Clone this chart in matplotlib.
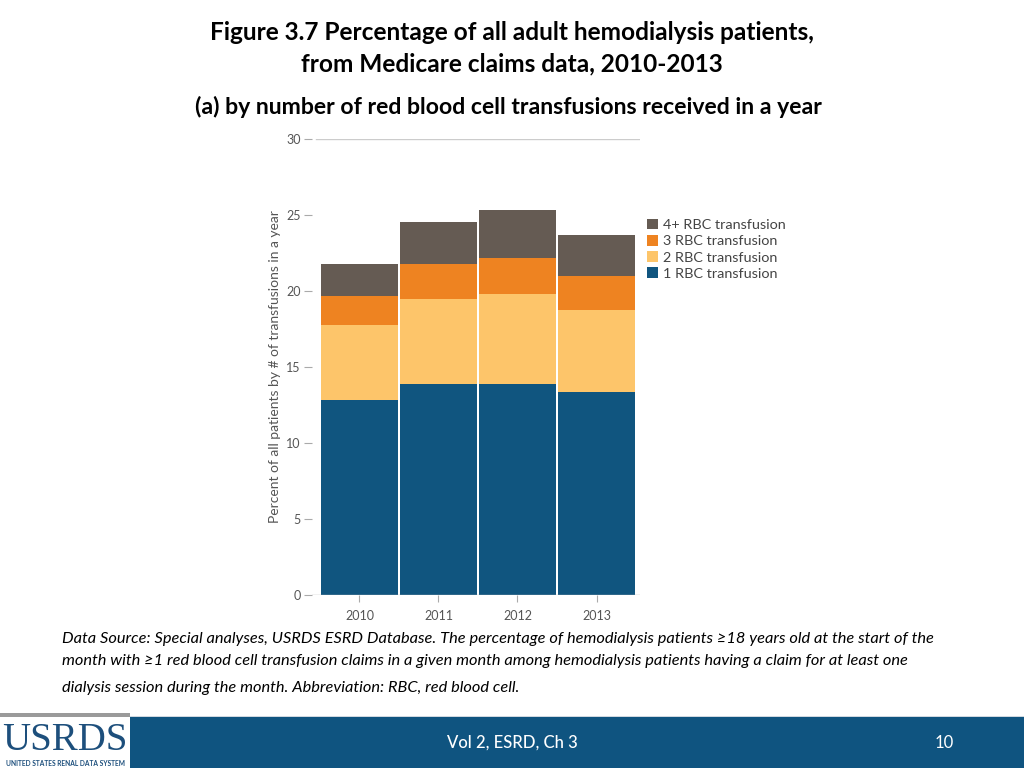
import matplotlib.pyplot as plt
from matplotlib.patches import Rectangle, Patch

years = ["2010", "2011", "2012", "2013"]
rbc_1 = [12.85, 13.85, 13.85, 13.35]
rbc_2 = [4.9, 5.6, 5.95, 5.4]
rbc_3 = [1.9, 2.3, 2.35, 2.25]
rbc_4plus = [2.1, 2.8, 3.15, 2.7]
series_labels = ["1 RBC transfusion", "2 RBC transfusion", "3 RBC transfusion", "4+ RBC transfusion"]
yticks = [0, 5, 10, 15, 20, 25, 30]

colors = ["#10557f", "#fdc56a", "#ee8321", "#655b53"]
grey = "#555555"

plt.rcParams['font.family'] = ['Lato', 'DejaVu Sans']

fig = plt.figure(figsize=(10.24, 7.68), dpi=100)

# titles
fig.text(0.5, 1 - 32 / 768, "Figure 3.7 Percentage of all adult hemodialysis patients,",
         ha="center", va="center", fontsize=17.6, fontweight="bold")
fig.text(0.5, 1 - 64 / 768, "from Medicare claims data, 2010-2013",
         ha="center", va="center", fontsize=17.6, fontweight="bold")
fig.text(0.497, 1 - 107 / 768, "(a) by number of red blood cell transfusions received in a year",
         ha="center", va="center", fontsize=16.6, fontweight="bold")

ax = fig.add_axes([312 / 1024, 1 - 595 / 768, 328 / 1024, (595 - 139) / 768])
x = list(range(len(years)))
bottom = [0] * len(years)
for vals, c, lab in zip([rbc_1, rbc_2, rbc_3, rbc_4plus], colors, series_labels):
    ax.bar(x, vals, bottom=bottom, width=0.975, color=c, edgecolor="none", label=lab, zorder=2)
    bottom = [b + v for b, v in zip(bottom, vals)]

ax.set_xlim(-0.6, 3.55)
ax.set_ylim(0, 30)
ax.set_yticks(yticks)
ax.set_xticks(x)
ax.set_xticklabels(years)
for s in ax.spines.values():
    s.set_visible(False)
ax.axhline(0, color="#bbbbbb", lw=1, zorder=3)
ax.axhline(30, xmin=0.012, color="#cccccc", lw=1, zorder=1)
ax.tick_params(axis="y", length=6, color="#aaaaaa", labelcolor=grey, labelsize=9, pad=2)
ax.tick_params(axis="x", length=5, color="#aaaaaa", labelcolor=grey, labelsize=9, pad=6)
ax.set_ylabel("Percent of all patients by # of transfusions in a year", fontsize=10,
              color=grey, labelpad=4)

handles = [Patch(facecolor=c, edgecolor="none") for c in colors[::-1]]
leg = fig.legend(handles, series_labels[::-1], loc="upper left",
                 bbox_to_anchor=(641 / 1024, 1 - 213 / 768), frameon=False,
                 fontsize=10.4, handlelength=0.75, handleheight=0.75, handletextpad=0.4,
                 labelspacing=0.27, borderaxespad=0)
for t in leg.get_texts():
    t.set_color("#444444")

# data source note
note = ["Data Source: Special analyses, USRDS ESRD Database. The percentage of hemodialysis patients \u226518 years old at the start of the",
        "month with \u22651 red blood cell transfusion claims in a given month among hemodialysis patients having a claim for at least one",
        "dialysis session during the month. Abbreviation: RBC, red blood cell."]
for line, yp in zip(note, [639, 661, 688]):
    fig.text(62 / 1024, 1 - yp / 768, line, ha="left", va="center", fontsize=11.8, style="italic")

# footer band
fig.patches.append(Rectangle((130 / 1024, 0), 1 - 130 / 1024, 51 / 768, transform=fig.transFigure,
                             facecolor="#0f5480", edgecolor="none"))
fig.patches.append(Rectangle((0, 51 / 768), 1, 1.5 / 768, transform=fig.transFigure,
                             facecolor="#d0d8e0", edgecolor="none"))
fig.patches.append(Rectangle((0, 51 / 768), 130 / 1024, 4 / 768, transform=fig.transFigure,
                             facecolor="#9a9a9a", edgecolor="none"))
fig.text(0.5, 1 - 743 / 768, "Vol 2, ESRD, Ch 3", ha="center", va="center", fontsize=12,
         color="white", fontweight="medium")
fig.text(944 / 1024, 1 - 743 / 768, "10", ha="center", va="center", fontsize=12, color="white")
fig.text(65 / 1024, 1 - 740 / 768, "USRDS", ha="center", va="center", fontsize=28,
         family="Liberation Serif", color="#1d4f7c")
fig.text(65 / 1024, 1 - 763 / 768, "UNITED STATES RENAL DATA SYSTEM", ha="center", va="center",
         fontsize=4.8, color="#1d4f7c", fontweight="bold")

fig.savefig("out.png", dpi=100)
